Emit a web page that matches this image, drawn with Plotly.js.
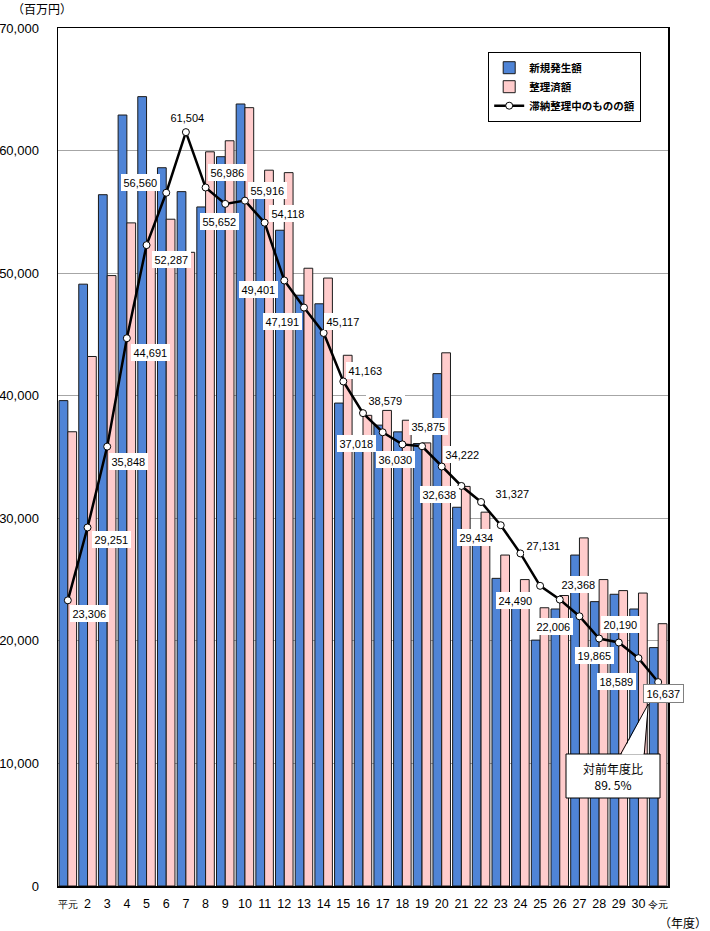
<!DOCTYPE html>
<html>
<head>
<meta charset="utf-8">
<script src="https://cdn.plot.ly/plotly-3.0.1.min.js"></script>
<style>
html,body{margin:0;padding:0;background:#fff;}
#chart{width:710px;height:931px;}
</style>
</head>
<body>
<div id="chart"></div>
<script>
// ---- data (百万円) ----
const categories = ['平元','2','3','4','5','6','7','8','9','10','11','12','13','14','15','16','17','18','19','20','21','22','23','24','25','26','27','28','29','30','令元'];
const newAmount = [39600,49100,56400,62900,64400,58600,56650,55400,59500,63800,56600,53500,48200,47500,39400,35800,37600,37050,36100,41800,30900,29000,25100,22900,20060,22600,27000,23200,23800,22600,19450];
const settledAmount = [37060,43200,49800,54100,56800,54400,51700,59900,60800,63500,58400,58200,50400,49600,43300,38400,38800,38000,36150,43500,32600,30500,27000,25000,22700,23700,28400,25000,24100,23900,21400];
const balance = [23306,29251,35848,44691,52287,56560,61504,56986,55652,55916,54118,49401,47191,45117,41163,38579,37018,36030,35875,34222,32638,31327,29434,27131,24490,23368,22006,20190,19865,18589,16637];
const seriesNames = ['新規発生額','整理済額','滞納整理中のものの額'];
const yTickVals = [0,10000,20000,30000,40000,50000,60000,70000];
const calloutText = '対前年度比<br>89. 5%';

// ---- label offsets (px) relative to each line point ----
const labelOffsets = [
 [22,13],[23.5,12.5],[21,14.4],[24,14],[25.4,14],[-26,-10.7],[2,-15],[22.4,-15.5],[-5.3,18],[23,-10.6],
 [23.4,-8.7],[-25.3,9.5],[-21,14.4],[19.3,-11],[22.6,-10.5],[22,-13],[-25.7,11.7],[-6.4,15.6],[6,-19.3],[21.2,-12.5],
 [-21.4,9],[31,-9],[-23.8,11.8],[23.5,-7.5],[-24.2,14.2],[19.2,-14.6],[-25.5,10.7],[21.8,-14.5],[-23.9,12.5],[-21.6,23.8],
 [5.8,11.9]
];

const numFont = 'Liberation Sans, Arial, sans-serif';
const jpFont = 'Noto Sans CJK JP, sans-serif';

const tickText = categories.map(c => (c.length > 1 && isNaN(Number(c))) ? '<span style="font-size:10px">'+c+'</span>' : c);

const traces = [
 {type:'bar', name:seriesNames[0], x:categories, y:newAmount,
  marker:{color:'#4f84d6', line:{color:'#1a1a1a', width:1}}, hoverinfo:'skip'},
 {type:'bar', name:seriesNames[1], x:categories, y:settledAmount,
  marker:{color:'#ffcccc', line:{color:'#1a1a1a', width:1}}, hoverinfo:'skip'},
 {type:'scatter', mode:'lines+markers', name:seriesNames[2], x:categories, y:balance,
  line:{color:'#000', width:2.5},
  marker:{symbol:'circle', size:7, color:'#fff', line:{color:'#000', width:1}}, hoverinfo:'skip'}
];

// annotations use the category serial number (numeric-looking names would be misread)
const annotations = balance.map((v,i)=>({
  x:i, y:v, xref:'x', yref:'y', showarrow:false,
  text:v.toLocaleString('en-US'),
  xshift:labelOffsets[i][0], yshift:-labelOffsets[i][1],
  bgcolor:'#fff', borderpad:2.5,
  bordercolor: i===balance.length-1 ? '#808080' : 'rgba(0,0,0,0)',
  borderwidth: i===balance.length-1 ? 1 : 0,
  font:{family:numFont, size:11, color:'#000'}
}));

// paper coordinate helpers for decorations (plot area 58..668 x 28..886)
const px = p => (p-58)/610;
const py = p => (886-p)/858;

annotations.push({xref:'paper', yref:'paper', x:px(10), y:py(9), xanchor:'left', yanchor:'middle', showarrow:false,
  text:'（百万円）', font:{family:jpFont, size:12, color:'#000'}});
annotations.push({xref:'paper', yref:'paper', x:px(709), y:py(923), xanchor:'right', yanchor:'middle', showarrow:false,
  text:'（年度）', font:{family:jpFont, size:12, color:'#000'}});
annotations.push({xref:'paper', yref:'paper', x:px(613), y:py(776), xanchor:'center', yanchor:'middle', showarrow:false,
  text:calloutText, align:'center', font:{family:jpFont, size:12, color:'#000'}});

const shapes = [
 {type:'rect', xref:'paper', yref:'paper', x0:px(566), x1:px(660), y0:py(798), y1:py(754),
  fillcolor:'#fff', line:{color:'#000', width:1}, layer:'above'},
 {type:'path', xref:'paper', yref:'paper',
  path:'M '+px(621.5)+','+py(754.5)+' L '+px(648.3)+','+py(704)+' L '+px(643.5)+','+py(754.5)+' Z',
  fillcolor:'#fff', line:{width:0}, layer:'above'},
 {type:'path', xref:'paper', yref:'paper',
  path:'M '+px(620.7)+','+py(754)+' L '+px(648.3)+','+py(704)+' L '+px(644.3)+','+py(754),
  fillcolor:'rgba(0,0,0,0)', line:{color:'#000', width:1}, layer:'above'}
];

const layout = {
  width:710, height:931,
  margin:{l:58, r:42, t:28, b:45},
  paper_bgcolor:'#fff', plot_bgcolor:'#fff',
  barmode:'group', bargap:0.11, bargroupgap:0,
  showlegend:true,
  legend:{x:px(488), y:py(52), xanchor:'left', yanchor:'top',
    bgcolor:'#fff', bordercolor:'#000', borderwidth:1.2,
    font:{family:jpFont, size:10.5, color:'#000', weight:'bold'}, itemwidth:30, tracegroupgap:4},
  xaxis:{type:'category', tickvals:categories, ticktext:tickText, range:[-0.5, categories.length-0.5],
    autorange:false, tickangle:0,
    showgrid:false, showline:true, linecolor:'#000', linewidth:1.5, mirror:true,
    ticks:'outside', ticklen:5, tickcolor:'rgba(0,0,0,0)',
    tickfont:{family:numFont, size:12.5, color:'#000'}, fixedrange:true},
  yaxis:{range:[0,70000], autorange:false, tickvals:yTickVals, tickformat:',d',
    showgrid:true, gridcolor:'#a6a6a6', gridwidth:1,
    showline:true, linecolor:'#000', linewidth:1.5, mirror:true,
    ticks:'outside', ticklen:15, tickcolor:'rgba(0,0,0,0)', zeroline:false,
    tickfont:{family:numFont, size:13, color:'#000'}, fixedrange:true},
  annotations:annotations,
  shapes:shapes
};

Plotly.newPlot('chart', traces, layout, {displayModeBar:false, staticPlot:true});
</script>
</body>
</html>
